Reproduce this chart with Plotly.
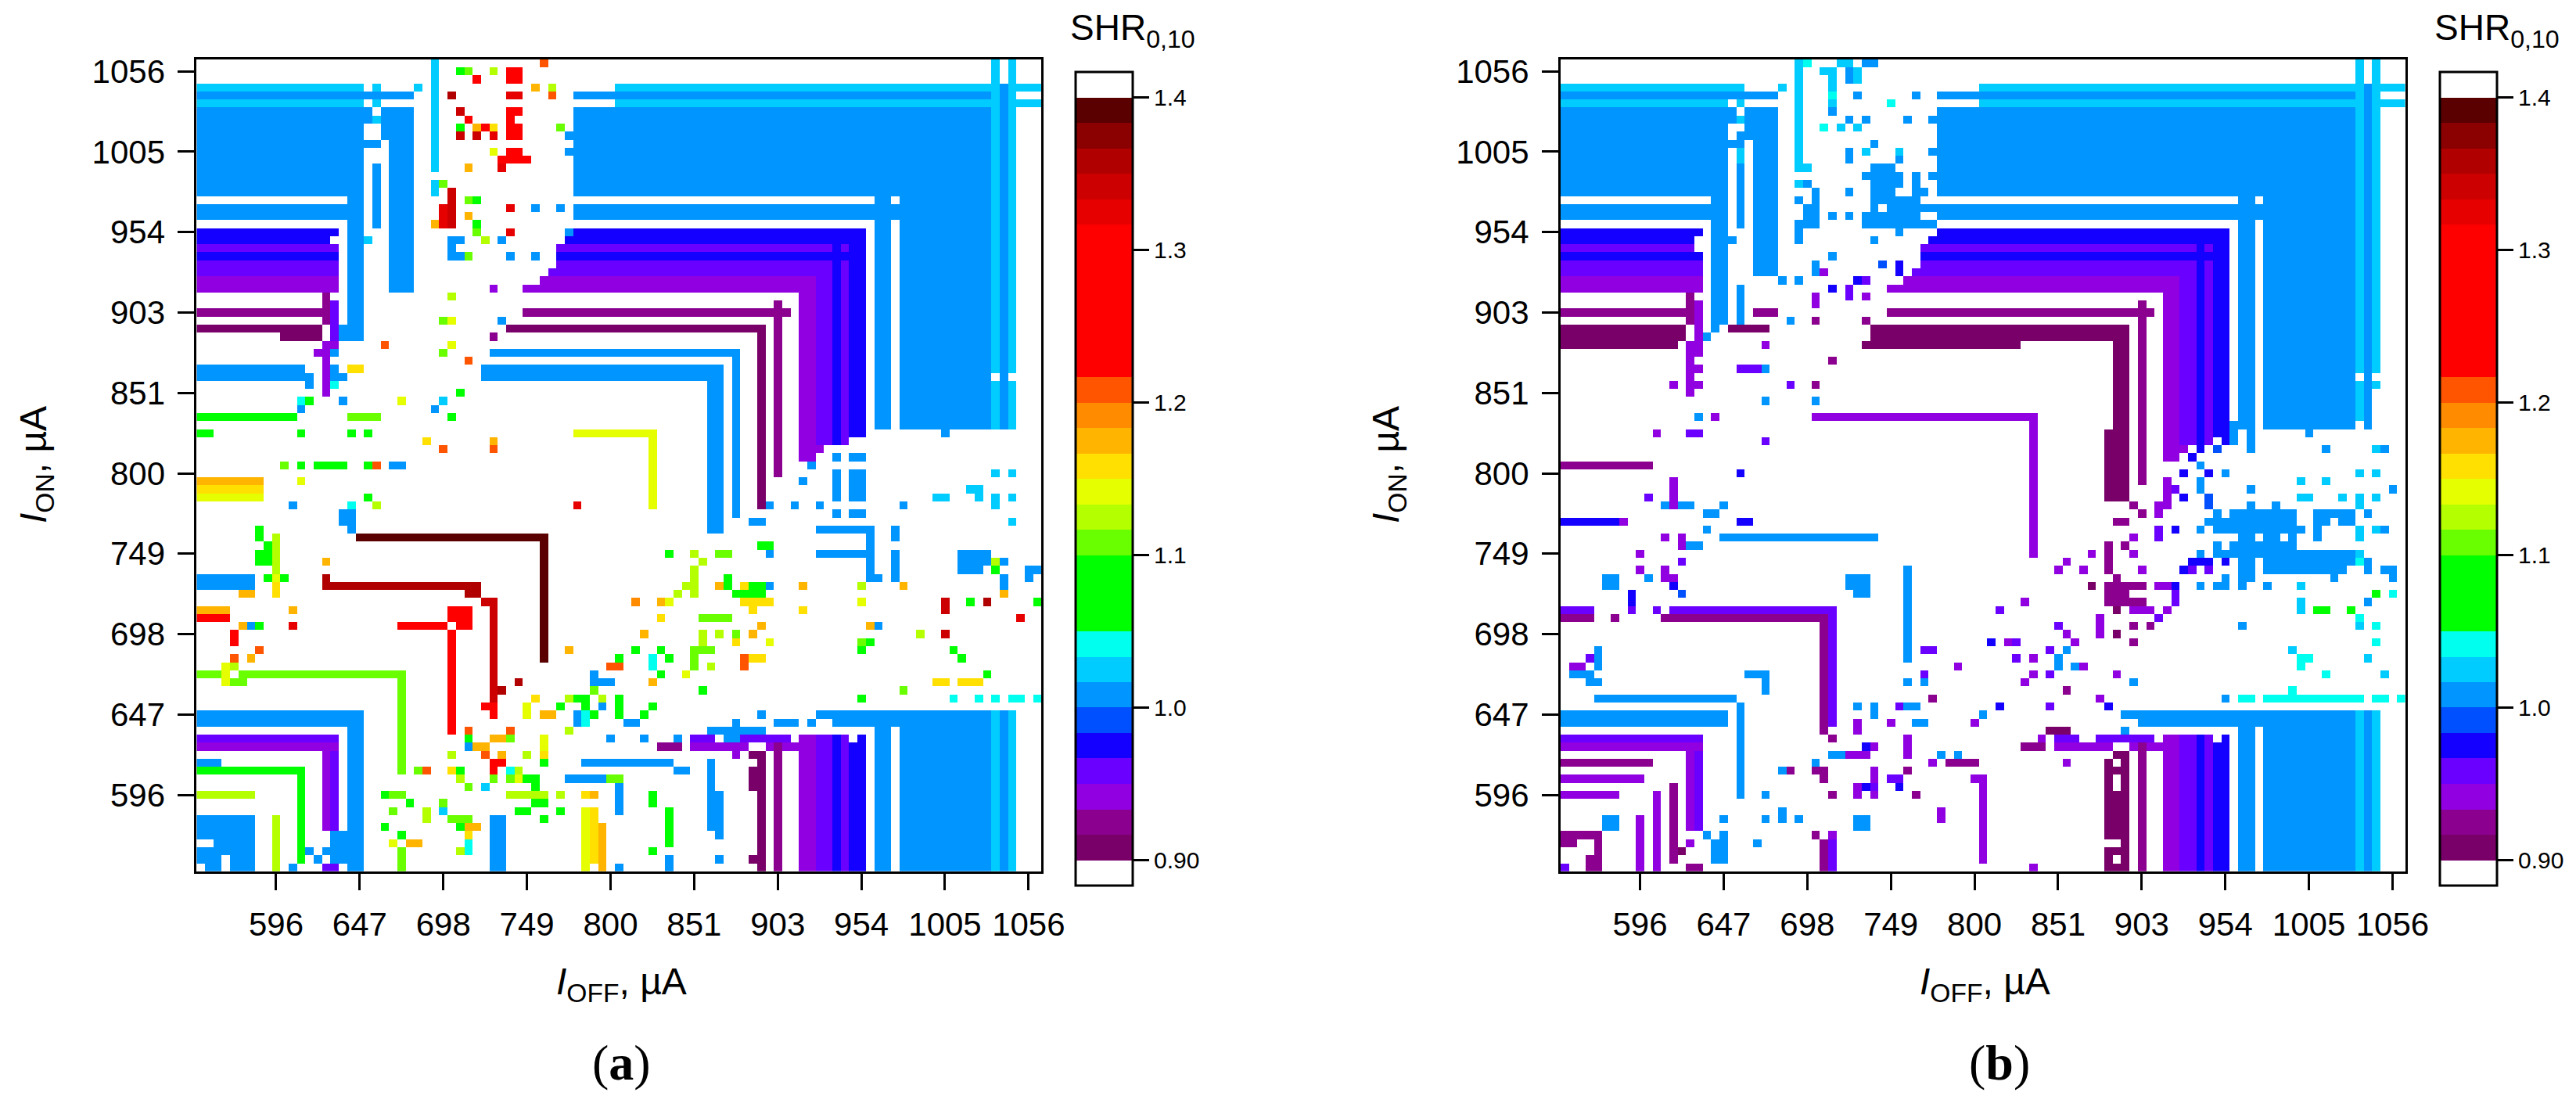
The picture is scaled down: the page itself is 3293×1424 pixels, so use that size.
import numpy as np
import plotly.graph_objects as go

# Measurement grid (µA) and tick labels
I_UA = [round(550.1 + 5.1 * i, 1) for i in range(101)]
TICK_LABELS = ["596", "647", "698", "749", "800", "851", "903", "954", "1005", "1056"]
TICK_VALUES = I_UA[9::10]

# SHR levels: colour-bar band centre for every letter used in the cell lists
LEVEL_VALUES = {"a": .9083, "b": .925, "c": .9417, "d": .9583, "e": .975, "f": .9917, "g": 1.0083,
                "h": 1.025, "i": 1.0417, "j": 1.075, "k": 1.1083, "l": 1.125, "m": 1.1417, "n": 1.1583,
                "o": 1.175, "p": 1.1917, "q": 1.2083, "r": 1.2667, "s": 1.325, "t": 1.3417, "u": 1.3583,
                "v": 1.375, "w": 1.3917, ".": None}
BAND_COLOURS = ["#780068", "#8c0090", "#9000e0", "#6a00ff", "#1400ff", "#0050ff", "#0095ff", "#00ccff", "#00ffee",
                "#00ff00", "#00ff00", "#00ff00", "#6aff00", "#b4ff00", "#e6ff00", "#ffe000", "#ffb400", "#ff8c00",
                "#ff5500", "#ff0000", "#ff0000", "#ff0000", "#ff0000", "#ff0000", "#ff0000", "#e60000", "#cc0000",
                "#b00000", "#8b0000", "#5a0000"]
CBAR_TICKS = [0.9, 1.0, 1.1, 1.2, 1.3, 1.4]
CBAR_LABELS = ["0.90", "1.0", "1.1", "1.2", "1.3", "1.4"]

# Cells as "level I_OFF-index I_ON-index-from-top", later entries overwrite earlier ones
A_TOP_LEFT = """
h 0-19 3|h 21 3|h 26 3|g 0-25 4|h 0-19 5|h 21 5|g 0-19 6-16|. 0-17 17|g 0-19 18-19|g 20 6-7|h 21 7
g 22-25 6-9|g 20-21 10|g 23-25 10-28|g 21 13-20|g 18-19 17-34|g 17 33-34|h 20 22
e 0-16 21-22|. 16 22|d 0-16 23|e 0-16 24|d 0-16 25-26|c 0-16 27-28|b 15 29-32|d 16 30-34|b 0-14 31|a 0-14 33
a 10-14 34|c 15-16 35|c 14-15 36|g 16 36|c 15 37-41|g 0-12 38-39|g 13 39-40|g 16 38|g 16-17 39|i 16 40|n 18-19 38|q 22 35
h 28 0-13|h 28 15-16|k 29 15|j 31 1|k 32 1|l 35 1|r 37-38 1-2|r 33 2|q 41 0|o 40 3|l 42 3|q 42 4|u 30 4|s 37-38 4
t 31 6|r 37-38 6|r 32 7|r 37 7|j 31 8|o 33 8|r 34 8|n 35 8|r 37-38 8-9|k 43 8|t 31,33 9|s 35 9|g 44 9|g 44 11
m 35 11|r 37-38 11|r 36-39 12|s 36 13|o 32 13|t 30 16-20|s 29 18-20|o 28 20|k 32 17|j 33 17|s 37 18|g 40,43 18
o 32 19|j 33 20|k 33 21|s 37 21|g 44 21|g 30-31 22|l 34 22|g 36 22|g 30 23|g 30-31 24|k 32 24|g 37,40 24
c 35 28|l 30 29|k 29 32|m 30 32|g 36 32|b 35 34|m 30 35|k 29 36|q 32 37|j 31 41|i 12 42|j 13 42|g 17 42|m 24 42|h 29 42
g 12 43|g 28 43|j 0-11 44|k 18-21 44|j 30 44|j 0-1 46|j 12 46|j 18,20 46|n 27 47|o 35 47|q 29,35 48
"""
A_TOP_RIGHT = """
h 50-100 3|g 45-96 4|h 50-100 5|g 45-94 6-16|g 81-82 17-45|g 84-94 17-45|g 45-94 18-19|h 95,97 0-45|g 96 3-45|. 95,97 39|g 89 46
e 45-79 21|e 44-79 22|d 43-75 23|e 76 23|d 77 23|e 78-79 23|e 43-79 24|d 43-75 25|d 42-75 26|c 41-73 27|c 39-73 28
d 74-75 27-47|e 76 25-47|d 77 25-47|e 78-79 25-46|c 72-73 29-49|c 74 48|b 39-70 31|b 69 30-51|a 37-67 33|a 67 34-55
g 35-64 36|g 64 36-56|g 34-62 38-39|g 61-62 40-58|m 45-54 46|m 54 47-55
"""
A_BOTTOM_LEFT = """
k 10 50|j 12 50|j 14-17 50|j 20 50|q 21 50|g 23-24 50|o 0-7 52|m 12 52|n 0-7 53|m 0-7 54|j 20 54|g 11 55|i 18 55|l 21 55|s 45 55
g 17-18 56-57|g 18 58|j 7 58-59|w 19-41 59|w 41 60-74|l 9 59-63|m 9 64|n 9 65-66|j 8 60|j 7-8 61-62|o 15 62|g 0-6 64-65
u 15 64|j 8,10 64|u 15-33 65|o 5-6 66|u 32-33 66|t 34-35 67|t 35 68-79|u 36 78|r 34-35 80|r 35 81|r 30-32 68-69|o 0-3 68|o 11 68
r 0-3 69|r 24-29 70|r 31-32 70|r 30 71-83|o 5 70|g 6 70|j 7 70|s 11 70|r 4 71-72|q 7 73|o 44 73|q 4 74|o 6 74|m 3 75-77|l 4 75|q 49 75
k 0-2 76|k 5-24 76|k 24 77-88|k 4-5 77|u 38 77|g 47 76-77|g 48-49 77|k 47 78|n 40 79|l 44 79|j 45-46 79|l 48 79|m 39 80-81|j 43 80
j 46 80|g 48 80|o 41-42 81|g 45 81-82|i 46 81-82|j 47 81|g 0-19 81-82|g 18-19 83-100|q 32 83|q 37 83|l 44 83|d 0-16 84|j 32 84
o 35-36 84|k 37 84|m 41 84-85|g 49 84|c 0-16 85|g 32 85|o 33-34 85|c 15 86-95|d 16 86-95|l 30 86|q 34 86|o 36 86|l 39 86|n 41 86
g 0-2 87|r 35-36 87|j 41 87|g 46-56 87|j 0-12 88|j 12 89-99|k 26 88|q 27 88|n 30 88|j 31 88|r 35 88|i 37 88|l 38 88|l 31 89|k 35 89
k 37 89|m 38 89|j 39-40 89|g 44-48 89|k 49 89|k 32 90|h 34 90|j 40 90|l 0-6 91|j 22 91|k 23-24 91|l 37-41 91|l 43 91|n 46 91|o 47 91
j 25 92|k 29 92|j 40-41 92|k 23 93|l 27 93-94|h 29 93|j 38-39 93|j 43 93|m 46 93-100|n 47 93-99|g 0-6 94-100|. 0-1 97|. 3 99-100|. 0 100
l 9 94-100|k 30-32 94|j 41 94|g 35-36 94-100|j 22 95|j 31 95|o 32-33 95|o 48 95-100|j 24 96|n 32 96|g 16-19 96-97|m 23 97|o 25-26 97
i 32 97-98|g 13 98|g 15-19 98|k 24 98-100|l 31 98|g 14 99|g 16-19 99|g 11 100|d 15-16 100|. 17 100
"""
A_BOTTOM_RIGHT = """
g 76,78-79 49|g 73 50|g 76,78-79 51-54|h 95,97 51|g 72 52|h 92-93 53|h 93 54|h 88-89 54|h 95,97 54|h 95 55|g 68,71,74,84 55
g 76,78-79 56|g 66-67 57|h 97 57|g 74-80 58|g 83 58-59|g 80 59-64|g 83 61-64|g 74-79 61|g 81 64|j 67-68 60|g 68 61|j 56 61|l 59 61
k 62-63 61|l 60 62|g 91-94 61-62|g 91-93 63|l 95 62|g 96 62|j 95 63|g 99-100 63|g 99 64|g 96 64-65|o 96 66|l 59 63-66|j 63 64-65
l 58 65|o 62 65|n 65 65|j 66-67 65|g 68 65|o 72 65|l 79 65|o 84 65|j 64-67 66|l 57 66|p 52 67|o 55 67|m 56 67|n 65-68 67|m 79 67
t 89 67-68|j 92 67|u 94 67|j 100 67|n 66 68|n 72 68|n 55 69|k 60-63 69|s 98 69|o 67 70|o 80 70|g 81 70|o 53 71|l 60 71|l 62 71|k 64 71
o 66 71|l 86 71|t 89 71|l 60 72|n 64 72|m 68 72|k 79 72|j 80 72|j 52 73|j 55 73|k 59-61 73|j 79 73|j 90 73|j 50 74|i 54 74-75|j 56 74
k 59 74-75|q 65 74-75|n 66-67 74|j 91 74|q 49-50 75|l 61 75|j 55 76|m 58 76|j 94 76|o 54 77|n 88-89 77|n 91-93 77|j 60 78|k 84 78
j 50 79-81|j 79 79|i 90,93,95,97-98,100 79|j 54 80|j 53 81|g 67 81|g 74-97 81|g 51-52 82|g 64 82|g 69-71 82|g 73 82|g 76-97 82|g 61-67 83
g 81-82,84-94,96 83-100|h 95,97 81-100|g 49,53,57 84|d 59-61 84|g 63-64 84|d 65-70 84|b 55-57 85|c 59-65 85|c 68-71 85|c 64 86|a 66-67 86|a 67 87-100
b 69 85-100|c 72-73 84-100|d 74-75 84-100|e 76 84-100|d 77 84-100|e 78-79 85-100|e 79 84|g 49-56 87|g 61 87-90|a 66 88-90
g 57-58 88|k 49-50 89|g 50 90-93|j 54 91-92|g 61-62 91-95|g 62 96|j 56 93-97|j 54 98|g 56 99-100|g 62 99|a 66 99|g 50 100
"""
B_TOP_LEFT = """
h 0-21 3|h 26 3|g 0-25 4|h 0-19 5|h 21 5|g 0-19 6-16|g 20 6-7|h 21 7|g 21 9|g 20-21 10|h 21 11-12|g 21 13-20|g 22-25 6-9|g 23-25 10-26
. 0-17 17|g 0-19 18-19|g 18-19 17-32|g 18 33|g 17 34|g 20 22|g 21 28-32|e 0-16 21-22|. 16 22-23|d 0-15 23|e 0-16 24|d 0-16 25-26|c 0-16 27-28
b 15 29-32|c 16 30-34|b 0-14 31|b 23-25 31|g 27 32|b 30 32|b 36 32|a 0-14 33-34|a 0-13 35|a 20-24 33|c 15-16 35-36|c 24 35|c 15 37-41
b 32 37|c 16 38|d 21-23 38|g 24 38|c 13 40|c 16 40|d 27 40|b 30 40|g 24,30 42|g 16 44|c 18 44|c 11 46|d 15-16 46|d 24 47
h 28 0-13|i 29 0|h 29 13|h 33-34 0|g 36-37 0|h 31-32 1|g 34 1-2|h 35 1-2|h 32 2-3|i 32 4|h 32 5|g 32 6|g 35 4|g 42 4|i 39 5|g 34,36,41,44 7
i 31 8|h 33 8|h 35 8|g 37 10|g 34 11-12|h 36 11|h 40 11|g 40 12|g 44 11|g 37-39 13|g 36-40 14|g 42 14|g 44 14|g 37-40 15|g 42 15
h 28 15|g 29 15|g 37-39 16|g 34 16|g 42-43 16|g 30 16-17|g 37-42 17|g 28 17|g 29-30 18-19|g 37 18|g 39-42 18|g 32,34 19|g 36-42 19
g 28-30 20|g 36-44 20|g 28 21-22|g 40 21|g 37 22|g 32 24|g 30 25-26|f 38 25|e 40 25-26|c 31 26|g 26,28 27|e 35 27|d 36 27|e 32 28|d 34 28-29
c 30 29-30|c 36 29|b 32 37
"""
B_TOP_RIGHT = """
h 50-100 3|g 45-96 4|h 50-100 5|g 45-94 6-16|g 81-82 17-45|g 84-94 17-45|g 43-94 18-19|. 43-44 19|h 95 0-44|h 97 0-40|g 96 3-45|. 95,97 39
e 45-79 21|e 44-79 22|d 43-75 23|e 76 23|d 77 23|e 78-79 23|e 43-79 24|d 43-75 25|d 42-75 26|c 41-73 27|c 39-73 28|d 74-75 27-47
e 76 25-47|d 77 25-47|e 78-79 25-46|c 72-73 29-49|c 74 48|. 78 47|e 79 47|g 80 45-47|g 82 46-48|g 89 46|g 91 48|h 97 48|g 98 48|e 76 48|f 78 48|. 77 48
b 39-70 31|b 69 30-52|a 37-67 33-34|a 36-54 35|a 66-67 35-45|a 65-67 46-54|c 30-56 44|c 56 45-61
"""
B_BOTTOM_LEFT = """
b 0-10 50|e 21 51|c 13 52-55|d 10 54|g 12,14-15 55|g 19 55|g 17-18 56|e 0-6 57|c 7 57|e 21-22 57|g 17 58|c 12,14 59|g 19-37 59|c 14 60|g 15-16 60
c 9 61|d 14 62|c 9,12 63|g 41 63-74|g 5-6 64-65|g 10 64|c 12-13 64|e 13 65|g 34-36 64-65|e 8 66-67|f 14 66|g 35-36 66|d 0-3 68|d 8 68|d 11 68
d 13-32 68|b 0-3 69|b 6 69|b 12-31 69|d 32 69|b 31 70-82|d 32 70-82|b 31 83|b 32 84|g 4 73-75|d 3 74|c 1-2 75|d 43-44 73|c 47 75|g 1-3 76
g 22-24 76|d 43 76|g 3-4 77|g 24 77-78|g 41,43 77|g 4-20 79|b 44 79|g 21 80-91|g 35,37 80|d 40 80|g 41-42 80|g 0-19 81-82|g 37 81|g 50 81
c 35 82-83|c 39 82|g 42-43 82|c 49 82|d 0-16 84|c 41 84-86|c 0-16 85|e 36 85|c 37 85|c 15 86-95|d 16 86-95|g 32-33 86|c 34-36 86|g 45,47 86
b 0-10 87|g 30 87|c 44 87|b 46-49 87|g 26 88|b 27 88|b 30-31 88|c 37 88-89|b 41 88|c 0-9 89|b 31 89|d 39-40 89|c 49 89|b 13 90-99|c 35 90-91
e 36 90|d 37 90|e 40 90|c 0-6 91|c 11 91-100|g 24 91|b 32 91|c 37 91|b 42 91|g 26 93-94|c 45 93-94|g 5-6 94-95|c 9 94-100|g 19,24,28 94|g 35-36 94-95
b 0-4 96|g 17,19 96|b 30 96|c 32 96|b 0-1 97|b 4 97-98|c 15 97|g 18-19 97-99|g 23 97|b 31 97-100|d 32 97-100|a 14 98|b 3-4 99-100|d 0 100|b 15-16 100
"""
B_BOTTOM_RIGHT = """
e 75 49|g 76 50|e 74 51|e 77 51|g 79 51|h 95,97 51|g 76 52-53|h 88,91 52|c 72 52-54|d 73 53|g 82 53|g 99 53|e 74 54|f 77 54-55|h 88-89 54|h 93 54
h 95,97 54|h 95 55|b 68 55|c 71-72 55|g 82,85 55|b 69 56|c 71 56|g 78 56|g 80-87 56|g 90-94 56|g 96 56|b 66-67 57|g 77-87 57|g 90-91 57|g 93-94 57
d 71 58-59|e 73 58|g 76 58|g 78-88 58|g 90 58-59|h 95 58-59|h 97 58|g 98 58|c 68 59|g 81-87 59|. 83,86 59|b 65 60-63|b 67 60|g 78 60|g 80-87 60
c 63 61|c 68 61|g 76 61|g 78-94 61|h 95 61|c 60 62|e 75-77 62|e 79 62|g 81-82 62-64|g 84-94 62|i 95 62|g 96 62-63|c 59 63|c 62 63|c 69 63
e 74 63|d 75 63|d 77 63|g 84-93 63|g 98-99 63|b 66 64|g 79 64|g 92 64|g 99 64|a 63 65|b 65-69 65|c 71-72 65|e 73 65|g 76 65|g 78-79 65|g 81,84 65
h 88 65|b 65-67 66-67|d 73 66-67|j 97 66|i 99 66|c 55 67|b 68-69 67|h 88 67-68|g 96 67|d 52 68|a 66 68|c 68-70 68|c 72 68|j 90-91 68|j 94 68
c 64 69-71|d 71 69|i 95 69|d 59 70|b 68 70|b 70 70|g 81 70|h 95 70|i 97 70|c 60 71|a 66 71|e 51 72|c 53 72|d 54 72|c 61 72|b 68 72|i 97 72
d 58 73|g 60 73|h 87 73|d 54 74|c 56 74|g 59 74-75|i 88-89 74|h 96 74|g 61 75|c 62 75|i 88 75|c 56 76|d 58 76|c 66 76|i 91 76|h 98 76|c 55 77|g 68 77
b 60 78|i 87 78|c 64 79|g 79 79|i 81-82 79|i 84-95 79|i 97-98 79|i 100 79|e 52 80|d 58 80|e 65 80|g 50 81|g 67-97 81|g 69-97 82|a 58-60 83|g 67 83
g 81-82,84-94,96 83-100|h 95,97 81-100|c 57 84|d 59-61 84|d 64-70 84|c 72-73 84-100|d 74-75 84-100|e 76 84-100|d 77 84-100|e 78-79 85-100|e 79 84
b 55-57 85|c 59-65 85|c 68-71 85|a 66-67 86-100|b 69 85-100|c 60 87|a 65 87-96|. 66 87|. 66 89-90|c 50 89-99|. 65-66 97|a 65 98-100|. 66 99|c 56 100
"""


def grid(*sections):
    """Paint the listed cells into a 101 x 101 table of SHR values, first row = top of the plot."""
    z = np.full((101, 101), np.nan)
    text = "|".join(s.strip().replace("\n", "|") for s in sections)
    def indices(part):
        out = []
        for piece in part.split(","):
            lo, _, hi = piece.partition("-")
            out.extend(range(int(lo), int(hi or lo) + 1))
        return out
    for item in text.split("|"):
        level, cols, rows = item.split()
        v = LEVEL_VALUES[level]
        for r in indices(rows):
            for c in indices(cols):
                z[r, c] = np.nan if v is None else v
    return z


STEP = 0.5 / len(BAND_COLOURS)
ZMIN, ZMAX = 0.9 - STEP, 1.4 + STEP
bands = ["#ffffff"] + BAND_COLOURS + ["#ffffff"]
colorscale = []
for k, col in enumerate(bands):
    colorscale += [[k / len(bands), col], [(k + 1) / len(bands), col]]

W, H = 3293, 1424
TOP, BOTTOM = 75.8, 1113.7
PANELS = [
    dict(left=251.4, bar=1375, z=grid(A_TOP_LEFT, A_TOP_RIGHT, A_BOTTOM_LEFT, A_BOTTOM_RIGHT), xa="x", ya="y",
         ytitle_x=46, xtitle_x=794, tag="(<b>a</b>)", tag_x=794),
    dict(left=1995, bar=3119, z=grid(B_TOP_LEFT, B_TOP_RIGHT, B_BOTTOM_LEFT, B_BOTTOM_RIGHT), xa="x2", ya="y2",
         ytitle_x=1775, xtitle_x=2537, tag="(<b>b</b>)", tag_x=2556),
]
FONT = "Liberation Sans, Arial, sans-serif"
fig = go.Figure()
annotations = []
for i, p in enumerate(PANELS):
    fig.add_trace(go.Heatmap(
        x=I_UA, y=I_UA[::-1], z=p["z"], xaxis=p["xa"], yaxis=p["ya"], zmin=ZMIN, zmax=ZMAX,
        colorscale=colorscale, xgap=0, ygap=0, hoverongaps=False,
        colorbar=dict(x=p["bar"] / W, xanchor="left", y=1 - 92 / H, yanchor="top", len=1040, lenmode="pixels",
                      thickness=73, thicknessmode="pixels", xpad=0, ypad=0, outlinecolor="black", outlinewidth=3,
                      tickmode="array", tickvals=CBAR_TICKS, ticktext=CBAR_LABELS, ticks="outside", ticklen=20,
                      tickwidth=3, tickcolor="black", tickfont=dict(family=FONT, size=30, color="black")),
    ))
    axis = dict(range=[I_UA[0] - 2.55, I_UA[-1] + 2.55], tickmode="array", tickvals=TICK_VALUES, ticktext=TICK_LABELS,
                ticks="outside", ticklen=21, tickwidth=3, tickcolor="black", showline=True, mirror=True,
                linecolor="black", linewidth=3, showgrid=False, zeroline=False,
                tickfont=dict(family=FONT, size=42, color="black"), ticklabelstandoff=8)
    suffix = "" if i == 0 else "2"
    fig.update_layout({
        "xaxis" + suffix: dict(axis, domain=[p["left"] / W, (p["left"] + 1079.5) / W], anchor="y" + suffix),
        "yaxis" + suffix: dict(axis, domain=[1 - BOTTOM / H, 1 - TOP / H], anchor="x" + suffix),
    })
    annotations += [
        dict(text="<i>I</i><sub>OFF</sub>, µA", x=p["xtitle_x"] / W, y=1 - 1258 / H, font=dict(family=FONT, size=48)),
        dict(text="<i>I</i><sub>ON</sub>, µA", x=p["ytitle_x"] / W, y=1 - 594 / H, textangle=-90,
             font=dict(family=FONT, size=48)),
        dict(text=p["tag"], x=p["tag_x"] / W, y=1 - 1358 / H, font=dict(family="Liberation Serif, serif", size=64)),
        dict(text="SHR<sub>0,10</sub>", x=(p["bar"] - 9) / W, y=1 - 38 / H, xanchor="left",
             font=dict(family=FONT, size=46)),
    ]

for a in annotations:
    a.update(xref="paper", yref="paper", showarrow=False, yanchor="middle", font=dict(a["font"], color="black"))
    a.setdefault("xanchor", "center")
fig.update_layout(width=W, height=H, autosize=False, margin=dict(l=0, r=0, t=0, b=0, pad=0, autoexpand=False),
                  paper_bgcolor="white", plot_bgcolor="white", annotations=annotations)
fig.write_html("out.html", config={"displayModeBar": False}, post_script="document.body.style.margin='0';")
